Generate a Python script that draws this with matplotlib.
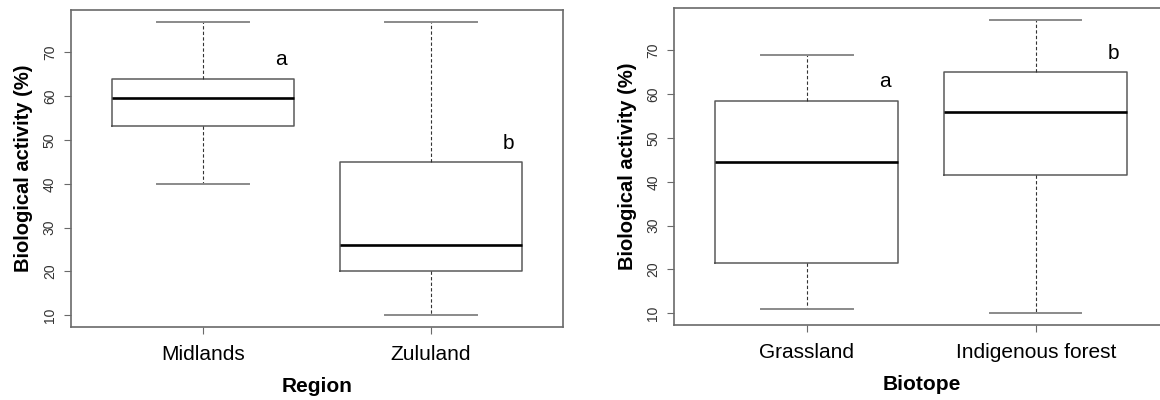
import matplotlib
matplotlib.use("Agg")
import matplotlib.pyplot as plt

plt.rcParams["font.family"] = ["Liberation Sans", "DejaVu Sans"]

# boxplot summaries (whisker low, Q1, median, Q3, whisker high)
regions = ["Midlands", "Zululand"]
region_whislo = [40, 10]
region_q1 = [53.3, 20]
region_med = [59.5, 26]
region_q3 = [64, 45]
region_whishi = [77, 77]
region_groups = ["a", "b"]

biotopes = ["Grassland", "Indigenous forest"]
biotope_whislo = [11, 10]
biotope_q1 = [21.5, 41.5]
biotope_med = [44.5, 56]
biotope_q3 = [58.5, 65]
biotope_whishi = [69, 77]
biotope_groups = ["a", "b"]

yticks = [10, 20, 30, 40, 50, 60, 70]

box_col = "#5a5a5a"
cap_col = "#8a8a8a"
spine_col = "#6a6a6a"


def r_boxplot(ax, names, lo, q1, med, q3, hi, groups, xlabel):
    stats = []
    for i in range(len(names)):
        stats.append(dict(label=names[i], whislo=lo[i], q1=q1[i], med=med[i],
                          q3=q3[i], whishi=hi[i], fliers=[]))
    ax.bxp(stats, positions=range(1, len(names) + 1), widths=0.8,
           showfliers=False, capwidths=0.4,
           boxprops=dict(color=box_col, linewidth=1.1),
           medianprops=dict(color="black", linewidth=1.9),
           whiskerprops=dict(color="#333333", linewidth=0.8, linestyle=(0, (3, 2))),
           capprops=dict(color=cap_col, linewidth=1.4))

    # R-style 4% padding around the data range
    n = len(names)
    ax.set_xlim(0.5 - 0.04 * n, n + 0.5 + 0.04 * n)
    ymin, ymax = min(lo), max(hi)
    pad = 0.04 * (ymax - ymin)
    ax.set_ylim(ymin - pad, ymax + pad)

    # significance letters above each box
    for i, g in enumerate(groups):
        ax.text(i + 1 + 0.34, q3[i] + 4.3, g, fontsize=15, ha="center", va="center")

    ax.set_yticks(yticks)
    ax.set_yticklabels([str(t) for t in yticks], rotation=90, va="center",
                       fontsize=10, color="#333333")
    ax.set_xticks(range(1, n + 1))
    ax.set_xticklabels(names, fontsize=15)
    ax.tick_params(axis="y", length=5, color=spine_col, pad=5)
    ax.tick_params(axis="x", length=5, color=spine_col, pad=8)
    for s in ax.spines.values():
        s.set_color(spine_col)
        s.set_linewidth(1.2)
    ax.set_xlabel(xlabel, fontsize=15, fontweight="bold", labelpad=9)
    ax.set_ylabel("Biological activity (%)", fontsize=14.5, fontweight="bold",
                  labelpad=7)


fig = plt.figure(figsize=(11.6, 4.0), dpi=100)
ax1 = fig.add_axes([0.0609, 0.1825, 0.4248, 0.7925])
ax2 = fig.add_axes([0.5813, 0.1875, 0.4259, 0.7925])

r_boxplot(ax1, regions, region_whislo, region_q1, region_med, region_q3,
          region_whishi, region_groups, "Region")
r_boxplot(ax2, biotopes, biotope_whislo, biotope_q1, biotope_med, biotope_q3,
          biotope_whishi, biotope_groups, "Biotope")

fig.savefig("out.png", dpi=100)
